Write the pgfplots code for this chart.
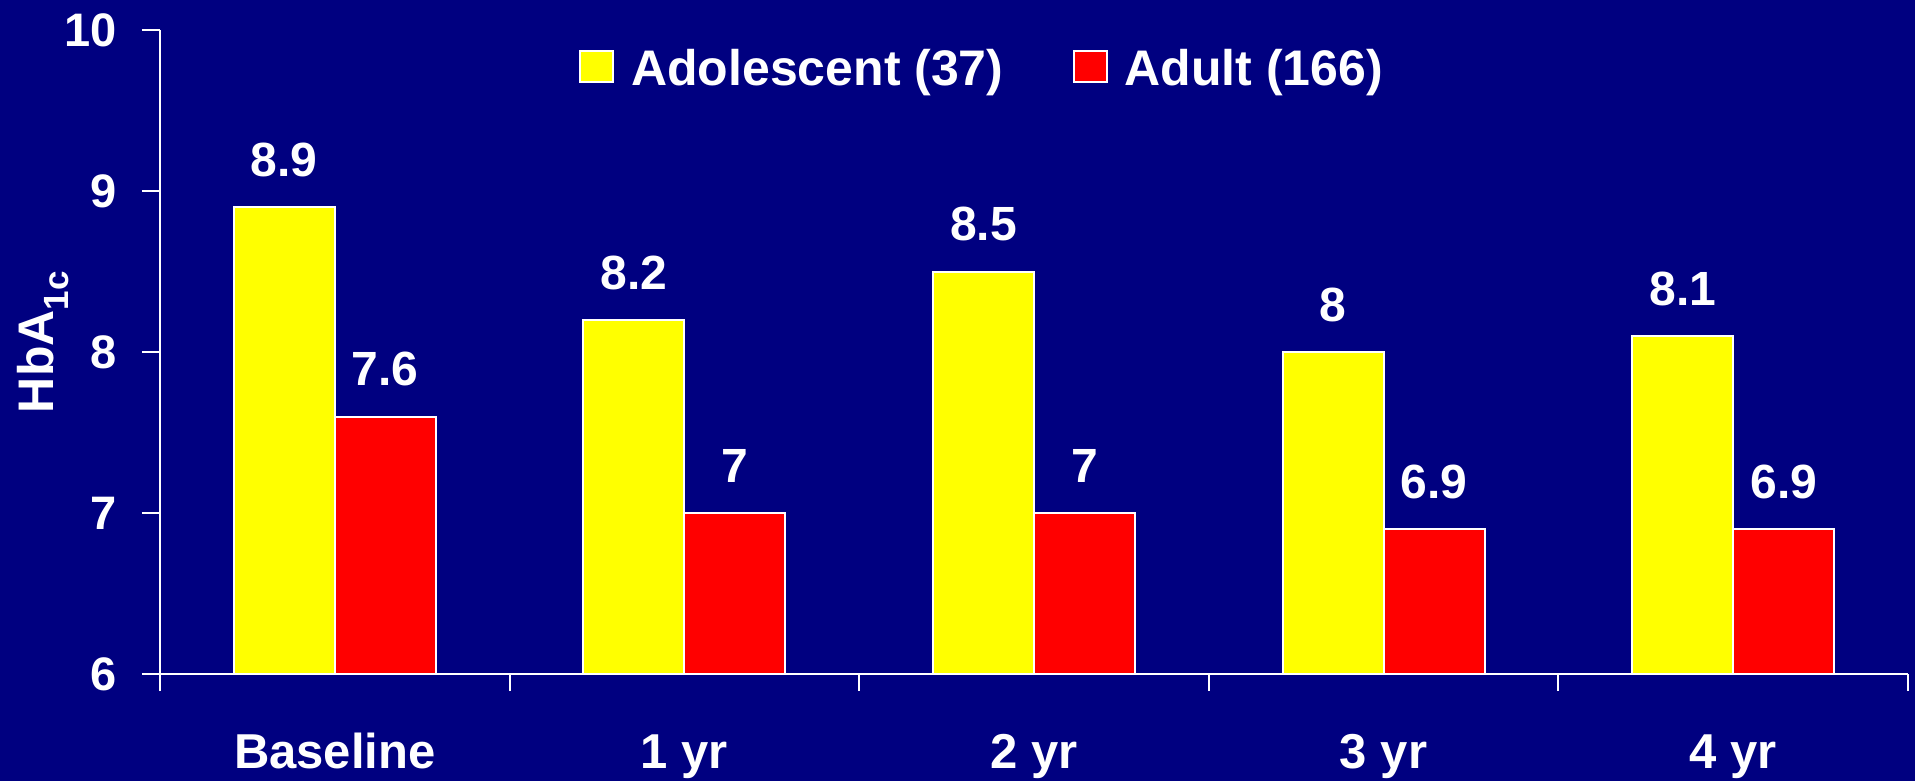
\documentclass[border=0pt]{standalone}
\usepackage{pgfplots}
\pgfplotsset{compat=1.18}
\usepackage{fontspec}
\setmainfont{Liberation Sans}

\definecolor{slidebg}{RGB}{0,0,128}
\definecolor{adoyellow}{RGB}{255,255,0}
\definecolor{adured}{RGB}{255,0,0}

\newcommand{\bigbold}[1]{\bfseries\fontsize{#1}{#1}\selectfont}

\begin{document}
\begin{tikzpicture}[x=1pt,y=1pt]
\fill[slidebg] (0,0) rectangle (1915,781);
\useasboundingbox (0,0) rectangle (1915,781);
\begin{axis}[
  at={(160pt,107pt)}, anchor=south west,
  scale only axis, width=1748pt, height=643.5pt,
  xmin=0, xmax=5, ymin=6, ymax=10,
  axis x line*=bottom, axis y line*=left,
  axis line style={white, line width=2pt},
  ybar=0pt, bar width=101pt,
  xtick={0.5,1.5,2.5,3.5,4.5},
  xticklabels={Baseline,1 yr,2 yr,3 yr,4 yr},
  minor xtick={0,1,2,3,4,5},
  ytick={6,7,8,9,10},
  tick align=outside,
  major tick length=18pt, minor tick length=17pt,
  tick style={white, line width=2pt},
  major x tick style={draw=none},
  /pgf/number format/assume math mode=true,
  yticklabel style={text=white, font=\bigbold{47}, xshift=-22pt},
  xticklabel style={text=white, font=\bigbold{49}, anchor=base, yshift=-76pt},
  ylabel={HbA\textsubscript{1c}},
  ylabel style={at={(axis description cs:-0.0612,0.516)}, anchor=base,
                text=white, font=\bigbold{50}},
  nodes near coords,
  every node near coord/.append style={text=white, font=\bigbold{48},
                anchor=base, yshift=31pt},
  legend columns=2,
  legend image code/.code={%
    \draw[#1, draw=white, line width=2pt] (0pt,-13pt) rectangle (33pt,18pt);},
  legend style={at={(axis description cs:0.2397,0.941)}, anchor=west,
    draw=none, fill=none, text=white, font=\bigbold{50}, inner sep=0pt,
    nodes={inner sep=0pt},
    /tikz/every odd column/.append style={column sep=17pt},
    /tikz/every even column/.append style={column sep=69pt}},
]
\addplot[fill=adoyellow, draw=white, line width=2pt]
  coordinates {(0.5,8.9) (1.5,8.2) (2.5,8.5) (3.5,8) (4.5,8.1)};
\addplot[fill=adured, draw=white, line width=2pt]
  coordinates {(0.5,7.6) (1.5,7) (2.5,7) (3.5,6.9) (4.5,6.9)};
\legend{Adolescent (37), Adult (166)}
\end{axis}
\end{tikzpicture}
\end{document}
